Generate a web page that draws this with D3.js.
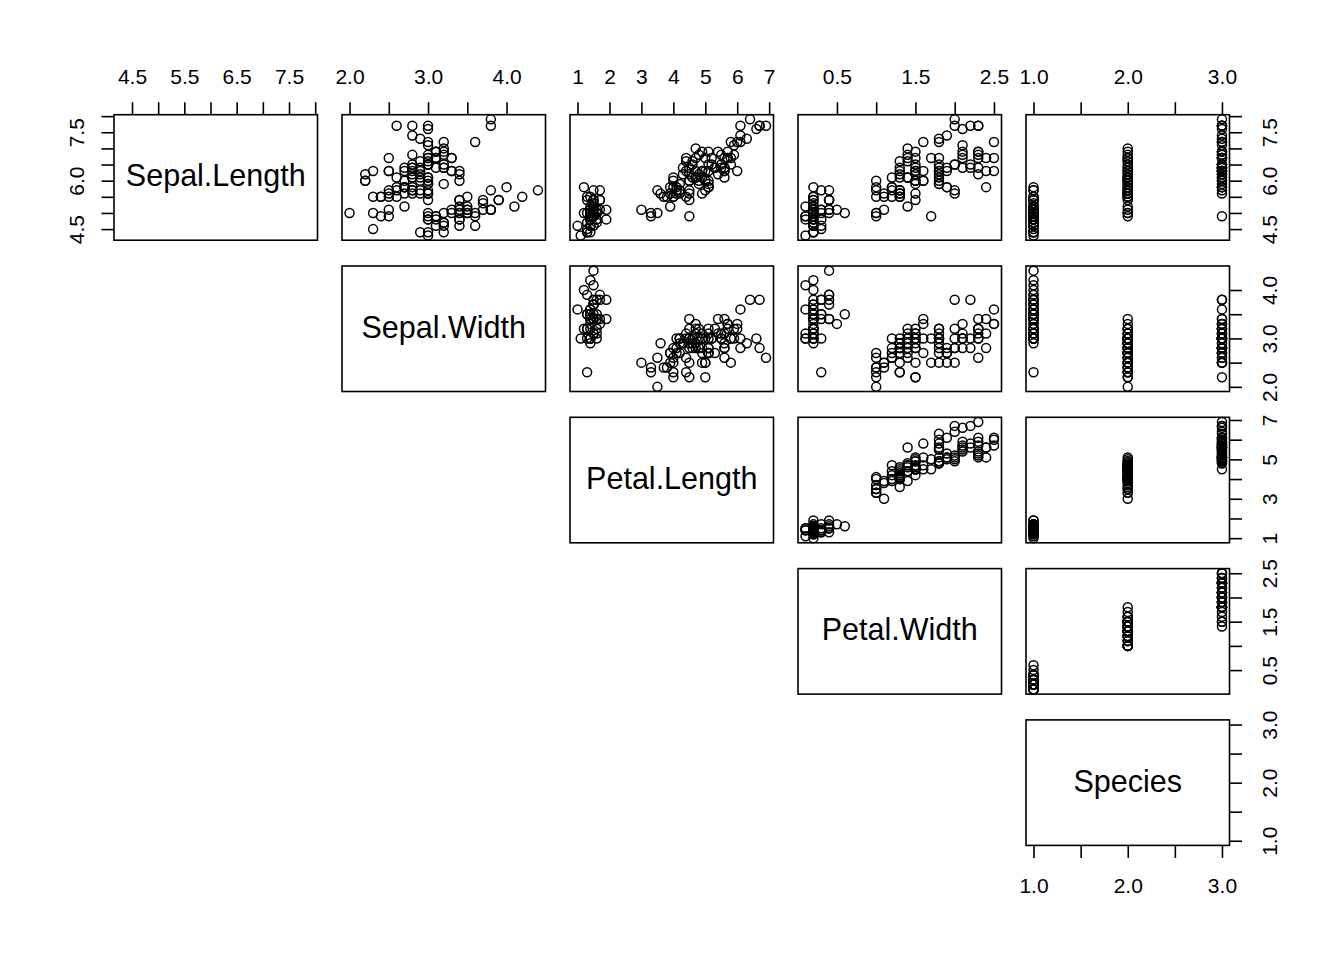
<!DOCTYPE html>
<html>
<head>
<meta charset="utf-8">
<script src="https://cdn.jsdelivr.net/npm/d3@7"></script>
<style>
  body { margin: 0; background: #fff; }
  svg { display: block; font-family: "Liberation Sans", Arial, Helvetica, sans-serif; }
  .box { fill: none; stroke: #000; stroke-width: 1.6; }
  .pt { fill: none; stroke: #000; stroke-width: 1.5; }
  .tick line { stroke: #000; stroke-width: 1.6; }
  .tick text { font-size: 21px; fill: #000; }
</style>
</head>
<body>
<svg width="1344" height="960"></svg>
<script>
// iris measurements, one array per column
const sepalLength = [
  5.1,4.9,4.7,4.6,5.0,5.4,4.6,5.0,4.4,4.9,5.4,4.8,4.8,4.3,5.8,5.7,5.4,5.1,5.7,5.1,5.4,5.1,4.6,5.1,4.8,
  5.0,5.0,5.2,5.2,4.7,4.8,5.4,5.2,5.5,4.9,5.0,5.5,4.9,4.4,5.1,5.0,4.5,4.4,5.0,5.1,4.8,5.1,4.6,5.3,5.0,
  7.0,6.4,6.9,5.5,6.5,5.7,6.3,4.9,6.6,5.2,5.0,5.9,6.0,6.1,5.6,6.7,5.6,5.8,6.2,5.6,5.9,6.1,6.3,6.1,6.4,
  6.6,6.8,6.7,6.0,5.7,5.5,5.5,5.8,6.0,5.4,6.0,6.7,6.3,5.6,5.5,5.5,6.1,5.8,5.0,5.6,5.7,5.7,6.2,5.1,5.7,
  6.3,5.8,7.1,6.3,6.5,7.6,4.9,7.3,6.7,7.2,6.5,6.4,6.8,5.7,5.8,6.4,6.5,7.7,7.7,6.0,6.9,5.6,7.7,6.3,6.7,
  7.2,6.2,6.1,6.4,7.2,7.4,7.9,6.4,6.3,6.1,7.7,6.3,6.4,6.0,6.9,6.7,6.9,5.8,6.8,6.7,6.7,6.3,6.5,6.2,5.9
];
const sepalWidth = [
  3.5,3.0,3.2,3.1,3.6,3.9,3.4,3.4,2.9,3.1,3.7,3.4,3.0,3.0,4.0,4.4,3.9,3.5,3.8,3.8,3.4,3.7,3.6,3.3,3.4,
  3.0,3.4,3.5,3.4,3.2,3.1,3.4,4.1,4.2,3.1,3.2,3.5,3.6,3.0,3.4,3.5,2.3,3.2,3.5,3.8,3.0,3.8,3.2,3.7,3.3,
  3.2,3.2,3.1,2.3,2.8,2.8,3.3,2.4,2.9,2.7,2.0,3.0,2.2,2.9,2.9,3.1,3.0,2.7,2.2,2.5,3.2,2.8,2.5,2.8,2.9,
  3.0,2.8,3.0,2.9,2.6,2.4,2.4,2.7,2.7,3.0,3.4,3.1,2.3,3.0,2.5,2.6,3.0,2.6,2.3,2.7,3.0,2.9,2.9,2.5,2.8,
  3.3,2.7,3.0,2.9,3.0,3.0,2.5,2.9,2.5,3.6,3.2,2.7,3.0,2.5,2.8,3.2,3.0,3.8,2.6,2.2,3.2,2.8,2.8,2.7,3.3,
  3.2,2.8,3.0,2.8,3.0,2.8,3.8,2.8,2.8,2.6,3.0,3.4,3.1,3.0,3.1,3.1,3.1,2.7,3.2,3.3,3.0,2.5,3.0,3.4,3.0
];
const petalLength = [
  1.4,1.4,1.3,1.5,1.4,1.7,1.4,1.5,1.4,1.5,1.5,1.6,1.4,1.1,1.2,1.5,1.3,1.4,1.7,1.5,1.7,1.5,1.0,1.7,1.9,
  1.6,1.6,1.5,1.4,1.6,1.6,1.5,1.5,1.4,1.5,1.2,1.3,1.4,1.3,1.5,1.3,1.3,1.3,1.6,1.9,1.4,1.6,1.4,1.5,1.4,
  4.7,4.5,4.9,4.0,4.6,4.5,4.7,3.3,4.6,3.9,3.5,4.2,4.0,4.7,3.6,4.4,4.5,4.1,4.5,3.9,4.8,4.0,4.9,4.7,4.3,
  4.4,4.8,5.0,4.5,3.5,3.8,3.7,3.9,5.1,4.5,4.5,4.7,4.4,4.1,4.0,4.4,4.6,4.0,3.3,4.2,4.2,4.2,4.3,3.0,4.1,
  6.0,5.1,5.9,5.6,5.8,6.6,4.5,6.3,5.8,6.1,5.1,5.3,5.5,5.0,5.1,5.3,5.5,6.7,6.9,5.0,5.7,4.9,6.7,4.9,5.7,
  6.0,4.8,4.9,5.6,5.8,6.1,6.4,5.6,5.1,5.6,6.1,5.6,5.5,4.8,5.4,5.6,5.1,5.1,5.9,5.7,5.2,5.0,5.2,5.4,5.1
];
const petalWidth = [
  0.2,0.2,0.2,0.2,0.2,0.4,0.3,0.2,0.2,0.1,0.2,0.2,0.1,0.1,0.2,0.4,0.4,0.3,0.3,0.3,0.2,0.4,0.2,0.5,0.2,
  0.2,0.4,0.2,0.2,0.2,0.2,0.4,0.1,0.2,0.2,0.2,0.2,0.1,0.2,0.2,0.3,0.3,0.2,0.6,0.4,0.3,0.2,0.2,0.2,0.2,
  1.4,1.5,1.5,1.3,1.5,1.3,1.6,1.0,1.3,1.4,1.0,1.5,1.0,1.4,1.3,1.4,1.5,1.0,1.5,1.1,1.8,1.3,1.5,1.2,1.3,
  1.4,1.4,1.7,1.5,1.0,1.1,1.0,1.2,1.6,1.5,1.6,1.5,1.3,1.3,1.3,1.2,1.4,1.2,1.0,1.3,1.2,1.3,1.3,1.1,1.3,
  2.5,1.9,2.1,1.8,2.2,2.1,1.7,1.8,1.8,2.5,2.0,1.9,2.1,2.0,2.4,2.3,1.8,2.2,2.3,1.5,2.3,2.0,2.0,1.8,2.1,
  1.8,1.8,1.8,2.1,1.6,1.9,2.0,2.2,1.5,1.4,2.3,2.4,1.8,1.8,2.1,2.4,2.3,1.9,2.3,2.5,2.3,1.9,2.0,2.3,1.8
];
// species as factor codes (1 = setosa, 2 = versicolor, 3 = virginica)
const species = [
  1,1,1,1,1,1,1,1,1,1,1,1,1,1,1,1,1,1,1,1,1,1,1,1,1,1,1,1,1,1,1,1,1,1,1,1,1,1,1,1,1,1,1,1,1,1,1,1,1,1,
  2,2,2,2,2,2,2,2,2,2,2,2,2,2,2,2,2,2,2,2,2,2,2,2,2,2,2,2,2,2,2,2,2,2,2,2,2,2,2,2,2,2,2,2,2,2,2,2,2,2,
  3,3,3,3,3,3,3,3,3,3,3,3,3,3,3,3,3,3,3,3,3,3,3,3,3,3,3,3,3,3,3,3,3,3,3,3,3,3,3,3,3,3,3,3,3,3,3,3,3,3
];

const varNames = ["Sepal.Length", "Sepal.Width", "Petal.Length", "Petal.Width", "Species"];
const columns = [sepalLength, sepalWidth, petalLength, petalWidth, species];

// tick marks, and which of them carry a label (top axis vs. side axes)
const tickValues = [
  [4.5, 5.0, 5.5, 6.0, 6.5, 7.0, 7.5, 8.0],
  [2.0, 2.5, 3.0, 3.5, 4.0],
  [1, 2, 3, 4, 5, 6, 7],
  [0.5, 1.0, 1.5, 2.0, 2.5],
  [1.0, 1.5, 2.0, 2.5, 3.0]
];
const topLabels = [
  [4.5, 5.5, 6.5, 7.5],
  [2.0, 3.0, 4.0],
  [1, 2, 3, 4, 5, 6, 7],
  [0.5, 1.5, 2.5],
  [1.0, 2.0, 3.0]
];
const sideLabels = [
  [4.5, 6.0, 7.5],
  [2.0, 3.0, 4.0],
  [1, 3, 5, 7],
  [0.5, 1.5, 2.5],
  [1.0, 2.0, 3.0]
];
const labelDigits = [1, 1, 0, 1, 1];

// panel geometry
const n = varNames.length;
const left0 = 114, colStep = 228, panelW = 203.5;
const top0 = 114.7, rowStep = 151.3, panelH = 125.5;

const svg = d3.select("svg");
svg.append("rect").attr("width", 1344).attr("height", 960).attr("fill", "#fff");

// one scale per variable, padded 4% each side like R's plot window
function extent4(arr) {
  const [lo, hi] = d3.extent(arr);
  const pad = (hi - lo) * 0.04;
  return [lo - pad, hi + pad];
}
const xScales = columns.map(c => d3.scaleLinear().domain(extent4(c)).range([0, panelW]));
const yScales = columns.map(c => d3.scaleLinear().domain(extent4(c)).range([panelH, 0]));

function fmt(j, labels) {
  return d => labels.some(v => Math.abs(v - d) < 1e-9) ? d.toFixed(labelDigits[j]) : "";
}

function rotateLabels(sel, offset) {
  // R writes side-axis labels parallel to the axis, reading bottom to top
  sel.selectAll(".tick text")
    .attr("x", 0)
    .attr("y", offset)
    .attr("dy", null)
    .attr("text-anchor", "middle")
    .attr("transform", "rotate(-90)");
}

for (let i = 0; i < n; i++) {
  for (let j = i; j < n; j++) {
    const g = svg.append("g")
      .attr("transform", "translate(" + (left0 + j * colStep) + "," + (top0 + i * rowStep) + ")");

    if (i === j) {
      g.append("text")
        .attr("x", panelW / 2)
        .attr("y", panelH / 2 + 9)
        .attr("text-anchor", "middle")
        .attr("font-size", "30.5px")
        .text(varNames[i]);
    } else {
      const xs = xScales[j], ys = yScales[i];
      g.selectAll(".pt")
        .data(d3.range(columns[i].length))
        .enter().append("circle")
        .attr("class", "pt")
        .attr("cx", k => xs(columns[j][k]))
        .attr("cy", k => ys(columns[i][k]))
        .attr("r", 4.5);
    }

    // top axis on every column of the first row
    if (i === 0) {
      g.append("g")
        .call(d3.axisTop(xScales[j]).tickValues(tickValues[j]).tickSize(12.5).tickPadding(18.5)
          .tickFormat(fmt(j, topLabels[j])))
        .call(a => a.select(".domain").remove());
    }
    // right axis on the last column
    if (j === n - 1) {
      g.append("g")
        .attr("transform", "translate(" + panelW + ",0)")
        .call(d3.axisRight(yScales[i]).tickValues(tickValues[i]).tickSize(12.5)
          .tickFormat(fmt(i, sideLabels[i])))
        .call(a => a.select(".domain").remove())
        .call(a => rotateLabels(a, 47));
    }
    // left axis only exists on the first panel
    if (i === 0 && j === 0) {
      g.append("g")
        .call(d3.axisLeft(yScales[i]).tickValues(tickValues[i]).tickSize(12.5)
          .tickFormat(fmt(i, sideLabels[i])))
        .call(a => a.select(".domain").remove())
        .call(a => rotateLabels(a, -30));
    }
    // bottom axis only under the last diagonal panel
    if (i === n - 1 && j === n - 1) {
      g.append("g")
        .attr("transform", "translate(0," + panelH + ")")
        .call(d3.axisBottom(xScales[j]).tickValues(tickValues[j]).tickSize(12.5).tickPadding(20)
          .tickFormat(fmt(j, sideLabels[j])))
        .call(a => a.select(".domain").remove());
    }

    g.append("rect")
      .attr("class", "box")
      .attr("width", panelW)
      .attr("height", panelH);
  }
}
</script>
</body>
</html>
